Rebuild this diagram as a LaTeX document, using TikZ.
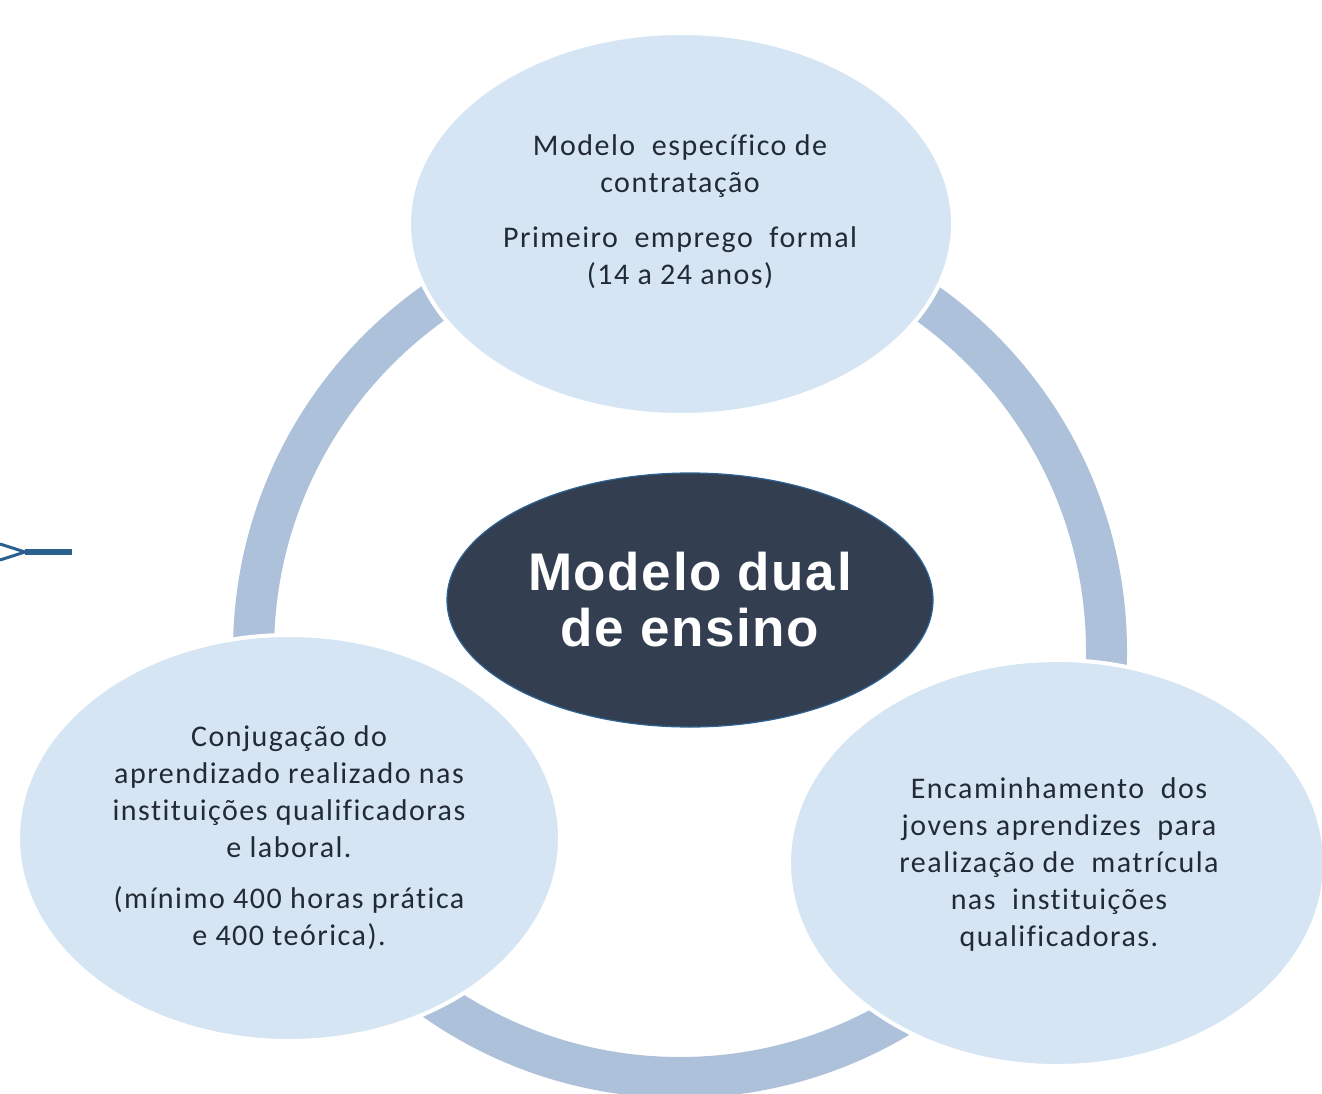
\documentclass[tikz,border=0pt]{standalone}
\usepackage{fontspec}
\setmainfont{Carlito}[LetterSpace=5,Ligatures=NoCommon]
\newfontfamily\titlefont{Liberation Sans}[LetterSpace=3]
\usetikzlibrary{shapes.geometric}
\definecolor{ringblue}{HTML}{ADC1DA}
\definecolor{lightfill}{HTML}{D5E5F3}
\definecolor{darkfill}{HTML}{333F50}
\definecolor{darkedge}{HTML}{2E6495}
\definecolor{textdark}{HTML}{222A35}
\definecolor{markblue}{HTML}{2A5F8E}
\tikzset{
  outerbubble/.style={ellipse, fill=lightfill, draw=white, line width=4pt, inner sep=0pt},
  corebubble/.style={ellipse, fill=darkfill, draw=darkedge, line width=1.2pt, inner sep=0pt},
  bodytext/.style={align=center, text=textdark, font=\fontsize{30}{37}\selectfont, inner sep=0pt},
  titletext/.style={align=center, text=white, font=\titlefont\bfseries\fontsize{53}{56}\selectfont, inner sep=0pt},
  ringband/.style={draw=ringblue, line width=41pt},
  markline/.style={draw=markblue, line cap=butt}
}
\begin{document}
\begin{tikzpicture}[x=1pt,y=-1pt]
\useasboundingbox (0,0) rectangle (1322,1094);
\fill[white] (0,0) rectangle (1322,1094);
% ring
\begin{scope}
\clip (0,0) rectangle (1322,1094);
\draw[ringband] (680,651) circle[radius=426.5];
\end{scope}
% left mark
\coordinate (mtip) at (25,552);
\coordinate (mend) at (72,552);
\coordinate (mup) at (0,544);
\coordinate (mlow) at (0,560);
\draw[markline, line width=6pt] (mtip) -- (mend);
\draw[markline, line width=3pt] (mup) -- (mtip);
\draw[markline, line width=3pt] (mlow) -- (mtip);
% bubbles
\node[outerbubble, minimum width=544pt, minimum height=382pt] (topb) at (681,224) {};
\node[outerbubble, minimum width=542pt, minimum height=406pt] (leftb) at (289,838) {};
\begin{scope}
\clip (0,0) rectangle (1322,1094);
\node[outerbubble, minimum width=536pt, minimum height=406pt] (rightb) at (1057,863) {};
\end{scope}
\node[corebubble, minimum width=486pt, minimum height=254pt] (core) at (690,600) {};
% texts
\node[bodytext] (toptext) at (680,212) {Modelo\ \ específico de\\contratação\\[18pt]Primeiro\ \ emprego\ \ formal\\(14 a 24 anos)};
\node[bodytext] (lefttext) at (289,838) {Conjugação do\\aprendizado realizado nas\\instituições qualificadoras\\e laboral.\\[14pt](mínimo 400 horas prática\\e 400 teórica).};
\node[bodytext] (righttext) at (1059,864) {Encaminhamento\ \ dos\\jovens aprendizes\ \ para\\realização de\ \ matrícula\\nas\ \ instituições\\qualificadoras.};
\node[titletext] (coretext) at (690,600) {Modelo dual\\de ensino};
\end{tikzpicture}
\end{document}
